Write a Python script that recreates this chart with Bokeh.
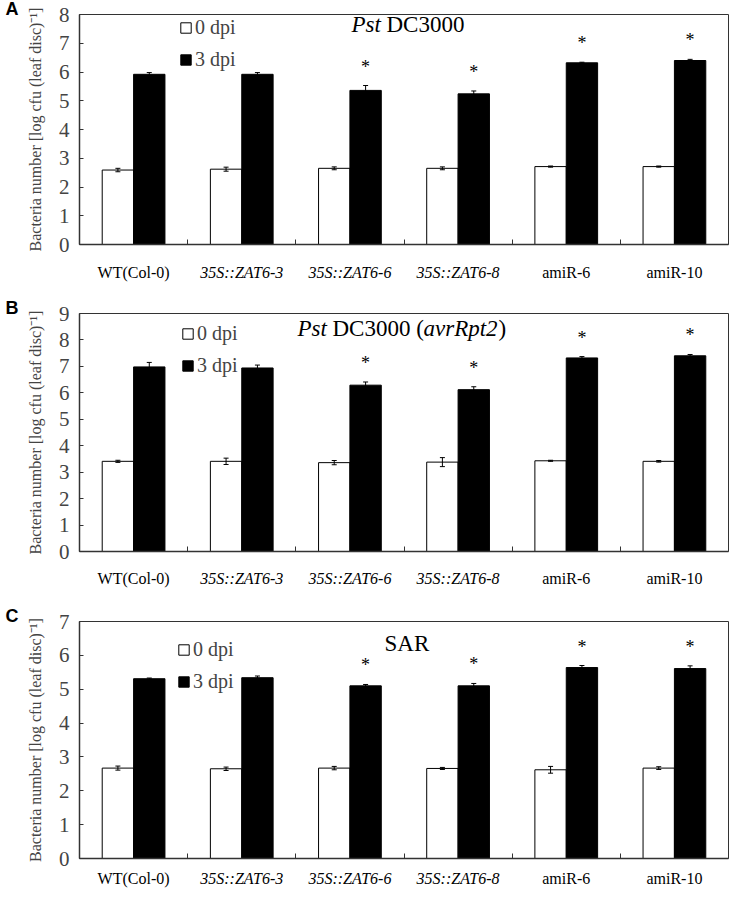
from bokeh.plotting import figure
from bokeh.models import (ColumnDataSource, FixedTicker, Label, Legend, LegendItem,
                          Whisker, TeeHead, Range1d, Title)
from bokeh.layouts import column
from bokeh.embed import file_html
from bokeh.resources import INLINE
from bokeh.core.properties import value, field

# ---------------- data ----------------
groups = ["WT(Col-0)", "35S::ZAT6-3", "35S::ZAT6-6", "35S::ZAT6-8", "amiR-6", "amiR-10"]
group_style = ["normal", "italic", "italic", "italic", "normal", "normal"]
series_names = ["0 dpi", "3 dpi"]

a_0dpi = [2.59, 2.62, 2.65, 2.65, 2.71, 2.71]
a_0dpi_err = [0.06, 0.07, 0.05, 0.05, 0.02, 0.02]
a_3dpi = [5.92, 5.92, 5.36, 5.24, 6.32, 6.40]
a_3dpi_err = [0.06, 0.06, 0.17, 0.10, 0.02, 0.04]
a_sig = [False, False, True, True, True, True]
a_yticks = [0, 1, 2, 3, 4, 5, 6, 7, 8]

b_0dpi = [3.41, 3.41, 3.36, 3.38, 3.43, 3.41]
b_0dpi_err = [0.04, 0.12, 0.08, 0.17, 0.02, 0.03]
b_3dpi = [6.98, 6.94, 6.29, 6.12, 7.32, 7.40]
b_3dpi_err = [0.17, 0.11, 0.12, 0.11, 0.05, 0.05]
b_sig = [False, False, True, True, True, True]
b_yticks = [0, 1, 2, 3, 4, 5, 6, 7, 8, 9]

c_0dpi = [2.67, 2.65, 2.67, 2.66, 2.62, 2.67]
c_0dpi_err = [0.06, 0.05, 0.05, 0.03, 0.10, 0.04]
c_3dpi = [5.31, 5.34, 5.10, 5.10, 5.64, 5.61]
c_3dpi_err = [0.02, 0.05, 0.04, 0.07, 0.06, 0.08]
c_sig = [False, False, True, True, True, True]
c_yticks = [0, 1, 2, 3, 4, 5, 6, 7]

y_title = "Bacteria number [log cfu (leaf disc)\u207b\u00b9]"

SERIF = "Liberation Serif"
SANS = "Liberation Sans"
AXC = "#333333"
W = 732
BL, BR = 79, 4
BAR_W = 0.29


def make_panel(letter, title_parts, title_dx, title_dy, v0, e0, v3, e3, sig, yticks,
               height, top, legend_dx, legend_dy):
    n = len(groups)
    xs = list(range(n))
    ymax = yticks[-1]
    xr = Range1d(-0.5, n - 0.5)
    p = figure(width=W, height=height, x_range=xr,
               y_range=Range1d(0, ymax), output_backend="svg", toolbar_location=None,
               min_border_left=BL, min_border_right=BR, min_border_top=top,
               min_border_bottom=12)
    p.xgrid.visible = False
    p.ygrid.visible = False
    p.outline_line_color = AXC
    p.outline_line_width = 1
    p.background_fill_color = "white"

    s0 = ColumnDataSource(dict(x=[i - BAR_W / 2 for i in xs], top=v0,
                               upper=[v + e for v, e in zip(v0, e0)],
                               lower=[v - e for v, e in zip(v0, e0)]))
    s3 = ColumnDataSource(dict(x=[i + BAR_W / 2 for i in xs], top=v3,
                               upper=[v + e for v, e in zip(v3, e3)],
                               lower=[v - e for v, e in zip(v3, e3)]))
    r0 = p.vbar(x="x", top="top", width=BAR_W, bottom=0, source=s0,
                fill_color="white", line_color="black", line_width=1)
    r3 = p.vbar(x="x", top="top", width=BAR_W, bottom=0, source=s3,
                fill_color="black", line_color="black", line_width=1)
    for s in (s0, s3):
        w = Whisker(base="x", upper="upper", lower="lower", source=s,
                    line_color="black", line_width=1, level="overlay",
                    upper_head=TeeHead(size=5, line_color="black", line_width=1),
                    lower_head=TeeHead(size=5, line_color="black", line_width=1))
        p.add_layout(w)

    # significance asterisks
    sx = [i + BAR_W / 2 for i in xs if sig[i]]
    sy = [v3[i] + e3[i] for i in xs if sig[i]]
    p.text(x=sx, y=sy, text=["*"] * len(sx), text_align="center",
           text_baseline="alphabetic", y_offset=-19, text_font=value(SERIF),
           text_font_size="18px", text_color="black")

    # axes
    p.yaxis.ticker = FixedTicker(ticks=yticks)
    p.yaxis.major_tick_in = 4
    p.yaxis.major_tick_out = 0
    p.yaxis.minor_tick_line_color = None
    p.yaxis.major_label_text_font = SERIF
    p.yaxis.major_label_text_font_size = "21px"
    p.yaxis.major_label_standoff = 10
    p.yaxis.axis_line_color = AXC
    p.yaxis.axis_line_width = 1.5
    p.yaxis.major_tick_line_color = AXC
    p.yaxis.axis_label = y_title
    p.yaxis.axis_label_text_font = SERIF
    p.yaxis.axis_label_text_font_size = "16px"
    p.yaxis.axis_label_text_font_style = "normal"
    p.yaxis.axis_label_standoff = 12

    p.xaxis.ticker = FixedTicker(ticks=xs, minor_ticks=[i + 0.5 for i in xs[:-1]])
    p.xaxis.major_tick_in = 0
    p.xaxis.major_tick_out = 0
    p.xaxis.minor_tick_in = 5
    p.xaxis.minor_tick_out = 0
    p.xaxis.minor_tick_line_color = AXC
    p.xaxis.major_label_overrides = {i: "" for i in xs}
    p.xaxis.major_label_text_font_size = "0px"
    p.xaxis.major_label_standoff = 0
    p.xaxis.axis_line_color = AXC
    p.xaxis.axis_line_width = 1.5

    # panel letter (in the top side panel, so it is not clipped)
    p.add_layout(Title(text=letter, align="left", offset=-74, standoff=-8,
                       text_font=SANS, text_font_size="18px", text_font_style="bold",
                       text_color="black"), "above")

    # panel title (mixed italic parts)
    for txt, style, dx in title_parts:
        p.add_layout(Label(x=-0.5, y=ymax, x_offset=title_dx + dx, y_offset=-title_dy,
                           text=txt, text_baseline="middle", text_align="left",
                           text_font=SERIF, text_font_size="23px",
                           text_font_style=style, text_color="black"))

    legend = Legend(items=[LegendItem(label=series_names[0], renderers=[r0]),
                           LegendItem(label=series_names[1], renderers=[r3])],
                    location=(legend_dx, legend_dy), glyph_width=13, glyph_height=13,
                    label_text_font=SERIF, label_text_font_size="20px",
                    label_standoff=3, spacing=9, padding=0, margin=0,
                    border_line_alpha=0, background_fill_alpha=0)
    p.add_layout(legend)
    return p, xr


def make_strip(xr, height, ypos):
    s = figure(width=W, height=height, x_range=xr, y_range=Range1d(0, height),
               output_backend="svg", toolbar_location=None,
               x_axis_location=None, y_axis_location=None,
               min_border_left=BL, min_border_right=BR, min_border_top=0,
               min_border_bottom=0)
    s.outline_line_color = None
    s.xgrid.visible = False
    s.ygrid.visible = False
    src = ColumnDataSource(dict(x=list(range(len(groups))), y=[ypos] * len(groups),
                                t=groups, st=group_style))
    s.text(x="x", y="y", text="t", source=src, text_align="center",
           text_baseline="middle", text_font=value(SERIF), text_font_size="16px",
           text_font_style=field("st"), text_color="black")
    return s


pA, xA = make_panel("A", [("Pst", "italic", 0), ("DC3000", "normal", 35)], 272, 10,
                    a_0dpi, a_0dpi_err, a_3dpi, a_3dpi_err, a_sig, a_yticks,
                    256, 12, 100, 173)
sA = make_strip(xA, 34, 18)
pB, xB = make_panel("B", [("Pst", "italic", 0), ("DC3000 (", "normal", 35),
                          ("avrRpt2", "italic", 126), (")", "normal", 201)], 218, 15,
                    b_0dpi, b_0dpi_err, b_3dpi, b_3dpi_err, b_sig, b_yticks,
                    273, 23, 102, 174)
sB = make_strip(xB, 35, 20)
pC, xC = make_panel("C", [("SAR", "normal", 0)], 305, 22,
                    c_0dpi, c_0dpi_err, c_3dpi, c_3dpi_err, c_sig, c_yticks,
                    272, 23, 98, 165)
sC = make_strip(xC, 30, 22)

layout = column(pA, sA, pB, sB, pC, sC, spacing=0)
open("out.html", "w").write(file_html(layout, INLINE))
